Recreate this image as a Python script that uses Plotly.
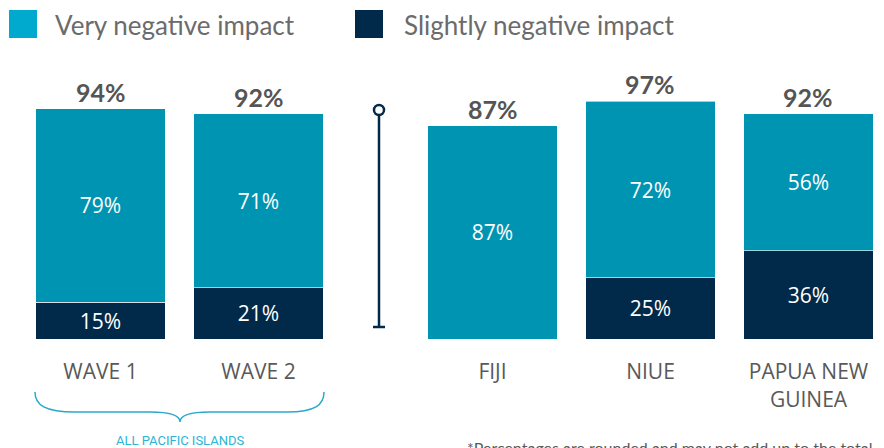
import plotly.graph_objects as go

# data
group_cats = ["WAVE 1", "WAVE 2"]
country_cats = ["FIJI", "NIUE", "PAPUA NEW<br>GUINEA"]
very_negative = [79, 71, 87, 72, 56]
slightly_negative = [15, 21, 0, 25, 36]
totals = [94, 92, 87, 97, 92]
series_names = ["Very negative impact", "Slightly negative impact"]
group_label = "ALL PACIFIC ISLANDS"
footnote = "*Percentages are rounded and may not add up to the total shown"

TEAL = "#0094b3"
TEAL_LIGHT = "#00a9ce"
NAVY = "#012a4a"
GREY = "#595959"

# the page body adds an 8px margin, so the figure is drawn 8px smaller
OFF = 8
W, H = 884 - OFF, 448 - OFF
PLOT_TOP, PLOT_BOTTOM = 94 - OFF, 339 - OFF


def px(x):
    return (x - OFF) / W


def py(y):
    return (PLOT_BOTTOM - (y - OFF)) / (PLOT_BOTTOM - PLOT_TOP)


def label(v):
    return f"{v}%" if v else ""


fig = go.Figure()

n_left = len(group_cats)
splits = [
    (group_cats, slice(0, n_left), "x"),
    (country_cats, slice(n_left, None), "x2"),
]

for cats, sl, xa in splits:
    fig.add_trace(go.Bar(
        x=cats, y=slightly_negative[sl], xaxis=xa, yaxis="y",
        marker=dict(color=NAVY, line=dict(color="rgba(255,255,255,0.6)", width=1)),
        text=[label(v) for v in slightly_negative[sl]],
        textposition="inside", insidetextanchor="middle",
        textfont=dict(family="Open Sans", size=21, color="white"),
        width=0.817, showlegend=False, hoverinfo="skip",
    ))
    fig.add_trace(go.Bar(
        x=cats, y=very_negative[sl], xaxis=xa, yaxis="y",
        marker=dict(color=TEAL, line=dict(color="rgba(255,255,255,0.6)", width=1)),
        text=[label(v) for v in very_negative[sl]],
        textposition="inside", insidetextanchor="middle",
        textfont=dict(family="Open Sans", size=21, color="white"),
        width=0.817, showlegend=False, hoverinfo="skip",
    ))
    for c, t in zip(cats, totals[sl]):
        fig.add_annotation(
            x=c, y=t, xref=xa, yref="y", text=f"<b>{t}%</b>",
            showarrow=False, yanchor="bottom", yshift=0,
            font=dict(family="Lato", size=25, color="#555555"),
        )

axis_common = dict(
    showgrid=False, zeroline=False, showline=False,
    ticks="outside", ticklen=14, tickcolor="rgba(0,0,0,0)",
    tickfont=dict(family="Open Sans", size=21, color=GREY),
    fixedrange=True,
)

fig.update_layout(
    width=W, height=H,
    margin=dict(l=0, r=0, t=PLOT_TOP, b=H - PLOT_BOTTOM),
    paper_bgcolor="white", plot_bgcolor="white",
    barmode="stack", hovermode=False,
    xaxis=dict(domain=[px(21.5), px(337.5)], range=[-0.5, 1.5], anchor="y", **axis_common),
    xaxis2=dict(domain=[px(413.5), 1.0], range=[-0.5, 2.478], anchor="y", **axis_common),
    yaxis=dict(range=[0, 100], visible=False, fixedrange=True),
)

# legend (drawn by hand)
legend_items = [(series_names[0], TEAL_LIGHT, 9, 53), (series_names[1], NAVY, 355, 402)]
for name, color, sx, tx in legend_items:
    fig.add_shape(type="rect", xref="paper", yref="paper",
                  x0=px(sx), x1=px(sx + 28), y0=py(38), y1=py(10),
                  fillcolor=color, line=dict(width=0))
    fig.add_annotation(x=px(tx), y=py(25), xref="paper", yref="paper",
                       text=name, showarrow=False, xanchor="left", yanchor="middle",
                       font=dict(family="Lato", size=26, color="#6b6b6b"))

# vertical separator with circle
sep_x = 379
fig.add_shape(type="line", xref="paper", yref="paper",
              x0=px(sep_x), x1=px(sep_x), y0=py(115), y1=py(327),
              line=dict(color=NAVY, width=2.5))
fig.add_shape(type="line", xref="paper", yref="paper",
              x0=px(sep_x - 6), x1=px(sep_x + 6), y0=py(327), y1=py(327),
              line=dict(color=NAVY, width=2.5))
fig.add_shape(type="circle", xref="paper", yref="paper",
              x0=px(sep_x - 5), x1=px(sep_x + 5), y0=py(115), y1=py(105),
              fillcolor="white", line=dict(color=NAVY, width=2.5))

# curly brace under the all-islands bars
brace = [("M", [(35, 392)]),
         ("C", [(35, 405), (45, 412), (75, 412)]),
         ("L", [(150, 412)]),
         ("C", [(172, 412), (180, 416), (180, 422)]),
         ("C", [(180, 416), (188, 412), (210, 412)]),
         ("L", [(287, 412)]),
         ("C", [(315, 412), (324, 405), (324, 392)])]
path = " ".join(cmd + " " + " ".join(f"{px(a):.5f},{py(b):.5f}" for a, b in pts)
                for cmd, pts in brace)
fig.add_shape(type="path", xref="paper", yref="paper", path=path,
              line=dict(color="#29a9cc", width=1.5))

fig.add_annotation(x=px(180), y=py(440), xref="paper", yref="paper",
                   text=group_label, showarrow=False, xanchor="center", yanchor="middle",
                   font=dict(family="Liberation Sans Narrow, Roboto", size=13, color="#2bb5d5"))

fig.add_annotation(x=px(465), y=py(436), xref="paper", yref="paper",
                   text=footnote, showarrow=False, xanchor="left", yanchor="top",
                   font=dict(family="Lato", size=16, color=GREY))

fig.write_html("out.html", config={"displayModeBar": False})
